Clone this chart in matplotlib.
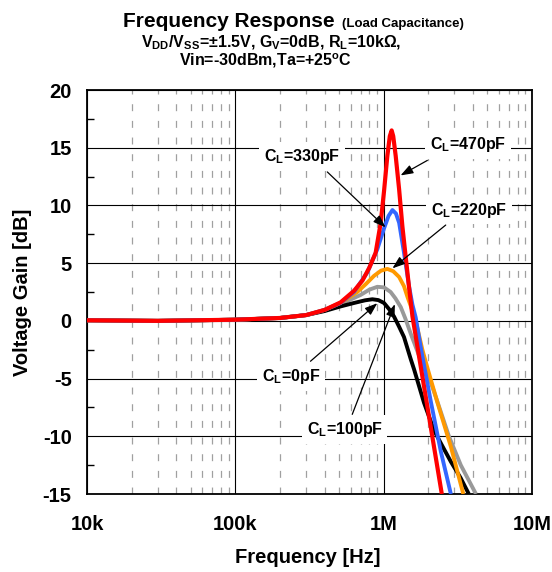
import matplotlib
matplotlib.use("Agg")
import matplotlib.pyplot as plt
from matplotlib.ticker import FixedLocator, NullFormatter
import numpy as np

plt.rcParams["font.family"] = ["Liberation Sans", "DejaVu Sans"]
plt.rcParams["font.weight"] = "bold"
plt.rcParams["mathtext.fontset"] = "custom"
plt.rcParams["mathtext.rm"] = "Liberation Sans:bold"
plt.rcParams["mathtext.it"] = "Liberation Sans:bold"
plt.rcParams["mathtext.bf"] = "Liberation Sans:bold"
plt.rcParams["lines.scale_dashes"] = False
plt.rcParams["axes.unicode_minus"] = False

# frequency in kHz, gain in dB
freq_0pF = [10, 30, 100, 200, 300, 400, 512, 631, 750, 839, 920, 1005, 1090, 1175,
            1270, 1371, 1521, 1603, 1871, 2188, 2500, 2838, 3300, 3750]
gain_0pF = [0.05, 0.0, 0.1, 0.25, 0.5, 0.85, 1.25, 1.55, 1.78, 1.87, 1.8, 1.55, 1.0, 0.37,
            -0.5, -1.4, -3.3, -4.2, -7.1, -9.5, -10.9, -12.2, -13.6, -15.0]

freq_100pF = [10, 30, 100, 200, 300, 400, 512, 700, 800, 906, 1005, 1114, 1200, 1303,
              1400, 1521, 1650, 1778, 2000, 2317, 2754, 3311, 4190]
gain_100pF = [0.05, 0.0, 0.1, 0.25, 0.5, 0.9, 1.45, 2.25, 2.7, 2.95, 2.9, 2.5, 1.95, 1.2,
              0.2, -1.1, -2.3, -3.4, -4.7, -7.1, -10.0, -12.5, -15.0]

freq_220pF = [10, 30, 100, 200, 300, 400, 512, 664, 760, 861, 960, 1059, 1160, 1271,
              1371, 1445, 1550, 1644, 1824, 1995, 2307, 2838, 3443]
gain_220pF = [0.05, 0.0, 0.1, 0.25, 0.5, 0.95, 1.55, 2.5, 3.2, 3.9, 4.35, 4.5, 4.3, 3.8,
              3.0, 2.1, 1.0, 0.0, -2.5, -4.3, -7.1, -10.9, -15.0]

freq_330pF = [10, 30, 100, 200, 300, 400, 512, 631, 776, 906, 1005, 1080, 1146, 1210,
              1271, 1371, 1483, 1563, 1644, 1778, 2080, 2427, 2838]
gain_330pF = [0.05, 0.0, 0.1, 0.25, 0.5, 0.95, 1.55, 2.5, 4.2, 6.2, 8.0, 9.1, 9.6, 9.3,
              8.5, 5.9, 3.0, 1.4, 0.3, -2.3, -7.0, -11.3, -15.0]

freq_470pF = [10, 30, 100, 200, 300, 400, 512, 631, 720, 800, 883, 955, 1005, 1059,
              1100, 1132, 1160, 1205, 1271, 1337, 1409, 1483, 1563, 1687, 1923, 2133, 2466]
gain_470pF = [0.05, 0.0, 0.1, 0.25, 0.5, 0.95, 1.6, 2.6, 3.5, 4.6, 5.9, 8.5, 11.2, 14.3,
              16.0, 16.5, 16.0, 14.3, 11.4, 8.2, 5.5, 2.9, 0.4, -2.2, -6.6, -10.1, -15.0]

x_ticks = [1e4, 1e5, 1e6, 1e7]
x_labels = ["10k", "100k", "1M", "10M"]
y_ticks = [-15, -10, -5, 0, 5, 10, 15, 20]

fig = plt.figure(figsize=(5.52, 5.72), dpi=100)
ax = fig.add_axes([87 / 552, 78 / 572, 445 / 552, 404 / 572])

curves = [
    (freq_100pF, gain_100pF, "#999999", 2.8),
    (freq_0pF, gain_0pF, "#000000", 2.8),
    (freq_220pF, gain_220pF, "#FF9900", 2.8),
    (freq_330pF, gain_330pF, "#3366FF", 2.8),
    (freq_470pF, gain_470pF, "#FF0000", 3.0),
]
for i, (f, g, c, lw) in enumerate(curves):
    ax.plot(np.array(f) * 1e3, g, color=c, lw=lw, zorder=3 + i, solid_capstyle="butt")

ax.set_xscale("log")
ax.set_xlim(1e4, 1e7)
ax.set_ylim(-15, 20)
ax.set_xticks(x_ticks)
ax.set_xticklabels(x_labels)
minor = [m * 10 ** e for e in range(4, 7) for m in range(2, 10)]
ax.xaxis.set_minor_locator(FixedLocator(minor))
ax.xaxis.set_minor_formatter(NullFormatter())
ax.set_yticks(y_ticks)
ax.yaxis.set_minor_locator(FixedLocator(np.arange(-12.5, 20, 5)))

ax.grid(which="major", color="black", lw=0.8)
ax.grid(which="minor", axis="x", color="#a0a0a0", lw=0.9, linestyle=(0, (5, 7)))
ax.set_axisbelow(True)

for s in ax.spines.values():
    s.set_linewidth(1.3)

ax.tick_params(axis="both", which="major", direction="in", length=0, labelsize=14.5)
ax.tick_params(axis="x", which="major", pad=15)
ax.tick_params(axis="y", which="major", pad=11)
ax.tick_params(axis="x", which="minor", length=0)
ax.tick_params(axis="y", which="minor", direction="in", length=5, width=1)

ax.set_xlabel("Frequency [Hz]", fontsize=14.5, fontweight="bold")
ax.set_ylabel("Voltage Gain [dB]", fontsize=14.5, fontweight="bold")
ax.xaxis.set_label_coords(0.497, -0.156)
ax.xaxis.label.set_va("center")
ax.yaxis.set_label_coords(-0.146, 0.5)
ax.yaxis.label.set_va("center")

# title block
fig.text(335 / 552, 1 - 27 / 572, "Frequency Response", ha="right", va="baseline",
         fontsize=15, fontweight="bold")
fig.text(342 / 552, 1 - 27 / 572, "(Load Capacitance)", ha="left", va="baseline",
         fontsize=9.5, fontweight="bold")
fig.text(271 / 552, 1 - 47 / 572,
         r"V$_{DD}$/V$_{SS}$=±1.5V, G$_{V}$=0dB, R$_{L}$=10kΩ,",
         ha="center", va="baseline", fontsize=11.5)
fig.text(266 / 552, 1 - 65 / 572, r"Vin=-30dBm,Ta=+25$^{o}$C",
         ha="center", va="baseline", fontsize=11.5)

box = dict(boxstyle="square,pad=0.3", fc="white", ec="none")
labels = [
    (r"C$_{L}$=470pF", (3.70e6, 15.3), (1.97e6, 13.9), (1.30e6, 12.6)),
    (r"C$_{L}$=220pF", (3.75e6, 9.6), (2.62e6, 8.3), (1.146e6, 4.55)),
    (r"C$_{L}$=330pF", (2.81e5, 14.26), (4.17e5, 12.9), (1.03e6, 8.1)),
    (r"C$_{L}$=0pF", (2.36e5, -4.8), (3.21e5, -3.5), (9.06e5, 1.53)),
    (r"C$_{L}$=100pF", (5.45e5, -9.4), (6.14e5, -8.1), (1.19e6, 1.45)),
]
for txt, pos, tail, head in labels:
    ax.annotate("", xy=head, xytext=tail, zorder=9,
                arrowprops=dict(arrowstyle="-|>,head_length=0.5,head_width=0.18",
                                color="black", lw=0.9, mutation_scale=15,
                                shrinkA=0, shrinkB=0))
    ax.text(pos[0], pos[1], txt, ha="center", va="center", fontsize=11.5,
            fontweight="bold", bbox=box, zorder=10)

fig.savefig("out.png", dpi=100)
